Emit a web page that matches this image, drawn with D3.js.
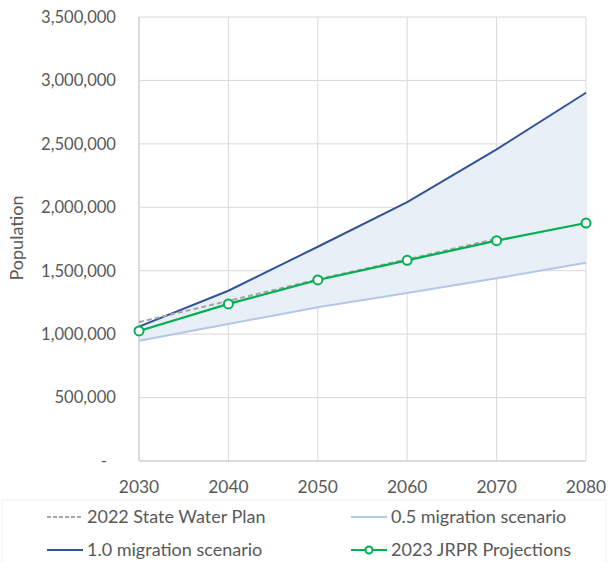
<!DOCTYPE html>
<html>
<head>
<meta charset="utf-8">
<script src="https://cdn.jsdelivr.net/npm/d3@7"></script>
<style>
  body { margin: 0; background: #fff; }
  #chart text { font-family: Lato, "Open Sans", sans-serif; fill: #595959; }
</style>
</head>
<body>
<div id="chart"></div>
<script>
var years = [2030, 2040, 2050, 2060, 2070, 2080];
var yTicks = [0, 500000, 1000000, 1500000, 2000000, 2500000, 3000000, 3500000];

var stateWaterPlan = [1095000, 1262000, 1432000, 1590000, 1752000];
var mig05 = [948000, 1080000, 1212000, 1324000, 1440000, 1563000];
var mig10 = [1059000, 1342000, 1689000, 2041000, 2457000, 2903000];
var jrpr = [1025000, 1238000, 1427000, 1582000, 1737000, 1876000];

var colors = {
  swp: '#a6a6a6',
  low: '#b4c7e7',
  high: '#2f5597',
  jrpr: '#00b050',
  band: '#e9eff7'
};

var width = 608, height = 562;
var margin = { top: 17, right: 22, bottom: 101, left: 139 };

var svg = d3.select('#chart').append('svg')
  .attr('width', width)
  .attr('height', height);

var x = d3.scaleLinear()
  .domain([2030, 2080])
  .range([margin.left, width - margin.right]);

var y = d3.scaleLinear()
  .domain([0, 3500000])
  .range([height - margin.bottom, margin.top]);

// gridlines
svg.append('g').selectAll('line')
  .data(yTicks.slice(1))
  .enter().append('line')
    .attr('x1', x(2030)).attr('x2', x(2080))
    .attr('y1', function (d) { return y(d); })
    .attr('y2', function (d) { return y(d); })
    .attr('stroke', '#d9d9d9').attr('stroke-width', 1);

svg.append('g').selectAll('line')
  .data(years.slice(1))
  .enter().append('line')
    .attr('x1', function (d) { return x(d); })
    .attr('x2', function (d) { return x(d); })
    .attr('y1', y(0)).attr('y2', y(3500000))
    .attr('stroke', '#d9d9d9').attr('stroke-width', 1);

// band between the two migration scenarios
var band = d3.area()
  .x(function (d, i) { return x(years[i]); })
  .y0(function (d, i) { return y(mig05[i]); })
  .y1(function (d) { return y(d); });

svg.append('path')
  .datum(mig10)
  .attr('d', band)
  .attr('fill', colors.band);

// axes lines
svg.append('line')
  .attr('x1', x(2030)).attr('x2', x(2030))
  .attr('y1', y(0)).attr('y2', y(3500000))
  .attr('stroke', '#d0d0d0').attr('stroke-width', 1.5);
svg.append('line')
  .attr('x1', x(2030)).attr('x2', x(2080))
  .attr('y1', y(0)).attr('y2', y(0))
  .attr('stroke', '#d0d0d0').attr('stroke-width', 1.5);

var line = d3.line()
  .x(function (d, i) { return x(years[i]); })
  .y(function (d) { return y(d); });

svg.append('path').datum(mig05).attr('d', line)
  .attr('fill', 'none').attr('stroke', colors.low).attr('stroke-width', 2);

svg.append('path').datum(mig10).attr('d', line)
  .attr('fill', 'none').attr('stroke', colors.high).attr('stroke-width', 2);

svg.append('path').datum(stateWaterPlan).attr('d', line)
  .attr('fill', 'none').attr('stroke', colors.swp).attr('stroke-width', 2)
  .attr('stroke-dasharray', '5,3');

svg.append('path').datum(jrpr).attr('d', line)
  .attr('fill', 'none').attr('stroke', colors.jrpr).attr('stroke-width', 2.25);

svg.append('g').selectAll('circle')
  .data(jrpr)
  .enter().append('circle')
    .attr('cx', function (d, i) { return x(years[i]); })
    .attr('cy', function (d) { return y(d); })
    .attr('r', 4.5)
    .attr('fill', '#fff')
    .attr('stroke', colors.jrpr)
    .attr('stroke-width', 2);

// y tick labels
var fmt = d3.format(',');
svg.append('g').selectAll('text')
  .data(yTicks)
  .enter().append('text')
    .attr('x', function (d) { return d === 0 ? 107 : 116; })
    .attr('y', function (d) { return y(d); })
    .attr('dy', '0.35em')
    .attr('text-anchor', 'end')
    .style('font-size', '16.6px')
    .text(function (d) { return d === 0 ? '-' : fmt(d); });

// x tick labels
svg.append('g').selectAll('text')
  .data(years)
  .enter().append('text')
    .attr('x', function (d) { return x(d); })
    .attr('y', 487)
    .attr('dy', '0.35em')
    .attr('text-anchor', 'middle')
    .style('font-size', '17.4px')
    .text(function (d) { return d; });

svg.append('text')
  .attr('transform', 'translate(17,238) rotate(-90)')
  .attr('dy', '0.35em')
  .attr('text-anchor', 'middle')
  .style('font-size', '18px')
  .text('Population');

// legend
svg.append('rect')
  .attr('x', 2).attr('y', 500)
  .attr('width', 604).attr('height', 70)
  .attr('fill', 'none').attr('stroke', '#f0f0f0');

var legendItems = [
  { name: '2022 State Water Plan', color: colors.swp, dash: '4,2', marker: false, lx: 47, ly: 517 },
  { name: '0.5 migration scenario', color: colors.low, dash: null, marker: false, lx: 351, ly: 517 },
  { name: '1.0 migration scenario', color: colors.high, dash: null, marker: false, lx: 47, ly: 550 },
  { name: '2023 JRPR Projections', color: colors.jrpr, dash: null, marker: true, lx: 351, ly: 550 }
];

var legend = svg.append('g').selectAll('g')
  .data(legendItems)
  .enter().append('g')
    .attr('transform', function (d) { return 'translate(' + d.lx + ',' + d.ly + ')'; });

legend.append('line')
  .attr('x1', 0).attr('x2', 36)
  .attr('y1', 0).attr('y2', 0)
  .attr('stroke', function (d) { return d.color; })
  .attr('stroke-width', 2)
  .attr('stroke-dasharray', function (d) { return d.dash; });

legend.filter(function (d) { return d.marker; })
  .append('circle')
  .attr('cx', 18).attr('cy', 0).attr('r', 3.5)
  .attr('fill', '#fff')
  .attr('stroke', function (d) { return d.color; })
  .attr('stroke-width', 2);

legend.append('text')
  .attr('x', 40)
  .attr('dy', '0.35em')
  .style('font-size', '18px')
  .text(function (d) { return d.name; });
</script>
</body>
</html>
